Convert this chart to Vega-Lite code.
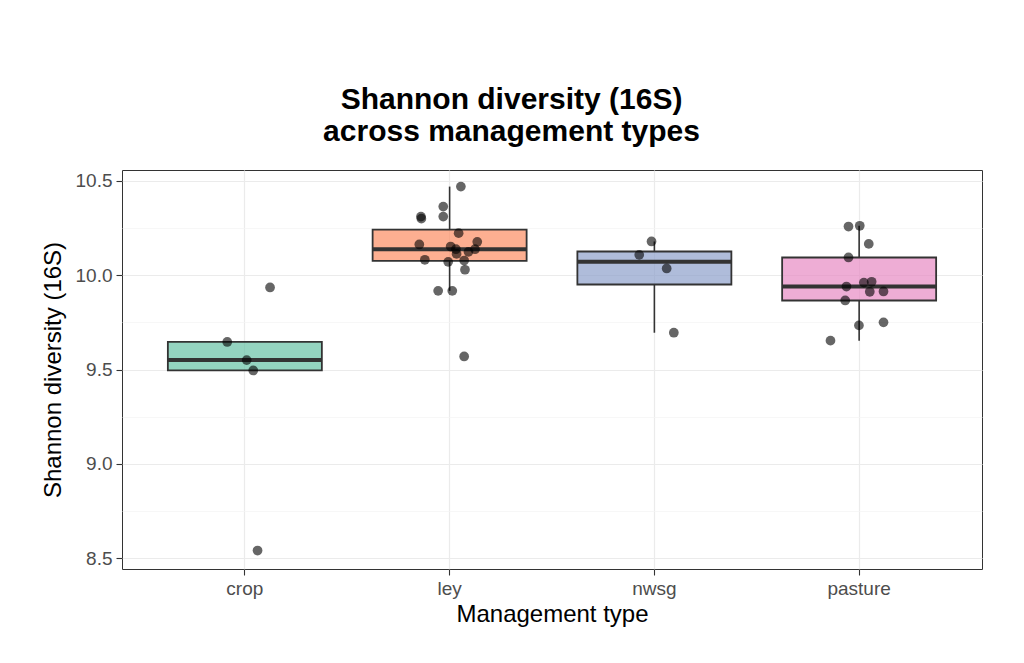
{
  "$schema": "https://vega.github.io/schema/vega-lite/v6.json",
  "width": 860,
  "height": 399,
  "padding": {"left": 41, "top": 85, "right": 10, "bottom": 10},
  "background": "white",
  "config": {
    "font": "Liberation Sans",
    "view": {"stroke": "#333333", "strokeWidth": 1}
  },
  "title": {
    "text": ["Shannon diversity (16S)", "across management types"],
    "fontSize": 30,
    "fontWeight": "bold",
    "color": "black",
    "anchor": "middle",
    "frame": "bounds",
    "offset": 23,
    "lineHeight": 32,
    "font": "Liberation Sans"
  },
  "data": {
    "values": [
      {"type": "crop", "shannon": 9.935, "jit": 0.123},
      {"type": "crop", "shannon": 9.646, "jit": -0.086},
      {"type": "crop", "shannon": 9.550, "jit": 0.009},
      {"type": "crop", "shannon": 9.495, "jit": 0.041},
      {"type": "crop", "shannon": 8.540, "jit": 0.062},
      {"type": "ley", "shannon": 10.470, "jit": 0.055},
      {"type": "ley", "shannon": 10.364, "jit": -0.031},
      {"type": "ley", "shannon": 10.311, "jit": -0.140},
      {"type": "ley", "shannon": 10.300, "jit": -0.138},
      {"type": "ley", "shannon": 10.311, "jit": -0.031},
      {"type": "ley", "shannon": 10.223, "jit": 0.044},
      {"type": "ley", "shannon": 10.163, "jit": -0.148},
      {"type": "ley", "shannon": 10.177, "jit": 0.135},
      {"type": "ley", "shannon": 10.152, "jit": 0.005},
      {"type": "ley", "shannon": 10.138, "jit": 0.031},
      {"type": "ley", "shannon": 10.138, "jit": 0.124},
      {"type": "ley", "shannon": 10.124, "jit": 0.092},
      {"type": "ley", "shannon": 10.113, "jit": 0.034},
      {"type": "ley", "shannon": 10.082, "jit": -0.121},
      {"type": "ley", "shannon": 10.071, "jit": -0.007},
      {"type": "ley", "shannon": 10.078, "jit": 0.071},
      {"type": "ley", "shannon": 10.029, "jit": 0.075},
      {"type": "ley", "shannon": 9.917, "jit": -0.056},
      {"type": "ley", "shannon": 9.917, "jit": 0.013},
      {"type": "ley", "shannon": 9.569, "jit": 0.071},
      {"type": "nwsg", "shannon": 10.179, "jit": -0.014},
      {"type": "nwsg", "shannon": 10.108, "jit": -0.074},
      {"type": "nwsg", "shannon": 10.036, "jit": 0.060},
      {"type": "nwsg", "shannon": 9.695, "jit": 0.095},
      {"type": "pasture", "shannon": 10.258, "jit": -0.052},
      {"type": "pasture", "shannon": 10.262, "jit": 0.003},
      {"type": "pasture", "shannon": 10.166, "jit": 0.047},
      {"type": "pasture", "shannon": 10.094, "jit": -0.052},
      {"type": "pasture", "shannon": 9.961, "jit": 0.023},
      {"type": "pasture", "shannon": 9.965, "jit": 0.061},
      {"type": "pasture", "shannon": 9.940, "jit": -0.062},
      {"type": "pasture", "shannon": 9.912, "jit": 0.052},
      {"type": "pasture", "shannon": 9.914, "jit": 0.119},
      {"type": "pasture", "shannon": 9.866, "jit": -0.068},
      {"type": "pasture", "shannon": 9.750, "jit": 0.119},
      {"type": "pasture", "shannon": 9.734, "jit": -0.001},
      {"type": "pasture", "shannon": 9.653, "jit": -0.140}
    ]
  },
  "encoding": {
    "x": {
      "field": "type",
      "type": "nominal",
      "sort": ["crop", "ley", "nwsg", "pasture"],
      "scale": {"paddingInner": 0, "paddingOuter": 0.1},
      "axis": {
        "title": "Management type",
        "labelAngle": 0,
        "labelFontSize": 19,
        "labelColor": "#4D4D4D",
        "titleFontSize": 24,
        "titleColor": "black",
        "titleFontWeight": "normal",
        "grid": true,
        "bandPosition": 0.5,
        "gridColor": "#EBEBEB",
        "gridWidth": 1.2,
        "tickColor": "#333333",
        "tickSize": 6,
        "tickWidth": 1.1,
        "domain": false,
        "labelPadding": 4,
        "titlePadding": 4
      }
    }
  },
  "layer": [
    {
      "mark": {
        "type": "boxplot",
        "extent": 1.5,
        "outliers": false,
        "size": 154,
        "box": {"stroke": "#333333", "strokeWidth": 1.8, "fillOpacity": 0.7},
        "median": {"color": "#333333", "thickness": 4, "opacity": 1},
        "rule": {"color": "#333333", "strokeWidth": 1.6}
      },
      "encoding": {
        "y": {
          "field": "shannon",
          "type": "quantitative",
          "scale": {"domain": [8.442, 10.558], "nice": false, "zero": false},
          "axis": {
            "title": "Shannon diversity (16S)",
            "values": [8.5, 9, 9.5, 10, 10.5],
            "format": ".1f",
            "labelFontSize": 19,
            "labelColor": "#4D4D4D",
            "titleFontSize": 24,
            "titleColor": "black",
            "titleFontWeight": "normal",
            "gridColor": "#EBEBEB",
            "gridWidth": 1.2,
            "tickColor": "#333333",
            "tickSize": 6,
            "tickWidth": 1.1,
            "domain": false,
            "labelPadding": 4,
            "titlePadding": 10
          }
        },
        "color": {
          "field": "type",
          "type": "nominal",
          "scale": {
            "domain": ["crop", "ley", "nwsg", "pasture"],
            "range": ["#66C2A5", "#FC8D62", "#8DA0CB", "#E78AC3"]
          },
          "legend": null
        }
      }
    },
    {
      "mark": {"type": "circle", "size": 95, "color": "black", "opacity": 0.6},
      "encoding": {
        "xOffset": {
          "field": "jit",
          "type": "quantitative",
          "scale": {"domain": [-0.5, 0.5]}
        },
        "y": {
          "field": "shannon",
          "type": "quantitative",
          "axis": {
            "values": [8.75, 9.25, 9.75, 10.25],
            "grid": true,
            "gridColor": "#F3F3F3",
            "gridWidth": 0.7,
            "labels": false,
            "ticks": false,
            "domain": false,
            "title": null,
            "orient": "left"
          }
        }
      }
    }
  ],
  "resolve": {"axis": {"y": "independent"}}
}
